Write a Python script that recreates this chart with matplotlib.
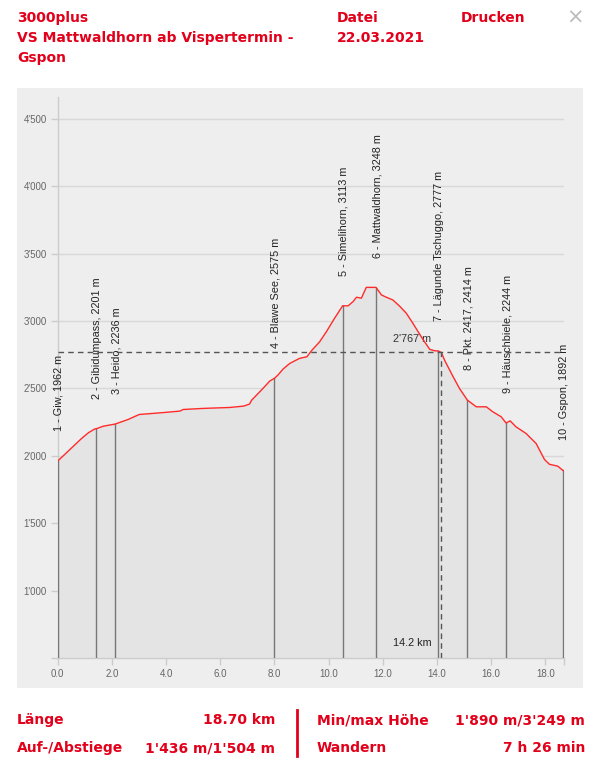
import numpy as np
import matplotlib
matplotlib.use("Agg")
import matplotlib.pyplot as plt
from matplotlib.patches import Rectangle
from matplotlib.ticker import FuncFormatter

# profile (km, m)
dist_km = [0.00, 0.27, 0.58, 0.88, 1.13, 1.38, 1.42, 1.68, 2.12, 2.60, 3.01,
           3.77, 4.51, 4.63, 5.37, 6.35, 6.86, 7.08, 7.16, 7.52, 7.83, 8.00,
           8.13, 8.32, 8.57, 8.93, 9.20, 9.37, 9.67, 9.92, 10.22, 10.52, 10.72,
           10.90, 11.03, 11.21, 11.39, 11.75, 11.95, 12.13, 12.25, 12.37, 12.62,
           12.87, 13.11, 13.42, 13.73, 13.90, 14.05, 14.16, 14.28, 14.53, 14.83,
           15.12, 15.45, 15.82, 16.06, 16.37, 16.55, 16.70, 16.92, 17.29, 17.66,
           17.97, 18.15, 18.46, 18.65, 18.70]
elev_m = [1962, 2013, 2072, 2129, 2171, 2201, 2201, 2220, 2236, 2270, 2307,
          2319, 2332, 2344, 2352, 2359, 2369, 2384, 2413, 2488, 2555, 2575,
          2599, 2644, 2686, 2723, 2735, 2780, 2846, 2921, 3020, 3113, 3112,
          3143, 3176, 3169, 3249, 3249, 3193, 3176, 3166, 3156, 3110,
          3057, 2983, 2883, 2790, 2780, 2777, 2767, 2710, 2612, 2500,
          2414, 2364, 2364, 2327, 2290, 2244, 2260, 2215, 2166, 2092,
          1973, 1938, 1924, 1892, 1890]

wp_names = ["1 - Giw, 1962 m", "2 - Gibidumpass, 2201 m", "3 - Heido, 2236 m",
            "4 - Blawe See, 2575 m", "5 - Simelihorn, 3113 m",
            "6 - Mattwaldhorn, 3248 m", "7 - Lägunde Tschuggo, 2777 m",
            "8 - Pkt. 2417, 2414 m", "9 - Häuschbiele, 2244 m",
            "10 - Gspon, 1892 m"]
wp_km = [0.01, 1.42, 2.12, 8.00, 10.52, 11.75, 14.05, 15.12, 16.55, 18.65]
wp_elev = [1962, 2201, 2236, 2575, 3113, 3248, 2777, 2414, 2244, 1892]

cursor_km = 14.16
cursor_elev = 2767

xticks = [0, 2, 4, 6, 8, 10, 12, 14, 16, 18]
yticks = [500, 1000, 1500, 2000, 2500, 3000, 3500, 4000, 4500]

header_left = ["3000plus", "VS Mattwaldhorn ab Vispertermin -", "Gspon"]
footer_rows = [("Länge", "18.70 km", "Min/max Höhe", "1'890 m/3'249 m"),
               ("Auf-/Abstiege", "1'436 m/1'504 m", "Wandern", "7 h 26 min")]

RED = "#e2001a"
W, H = 606, 776


def px(x, y):
    return x / W, 1 - y / H


fig = plt.figure(figsize=(W / 100, H / 100), dpi=100)
fig.patch.set_facecolor("white")

# grey panel behind the chart
fig.patches.append(Rectangle(px(17, 688), 566 / W, 600 / H,
                             transform=fig.transFigure, facecolor="#eeeeee",
                             edgecolor="none", zorder=-5))

l, t = px(57.7, 97)
r, b = px(564.3, 658.3)
ax = fig.add_axes([l, b, r - l, t - b])
ax.set_zorder(2)
ax.set_facecolor("none")
ax.set_xlim(0, 18.7)
ax.set_ylim(500, 4660)

for s in ["top", "right"]:
    ax.spines[s].set_visible(False)
for s in ["left", "bottom"]:
    ax.spines[s].set_color("#cccccc")
    ax.spines[s].set_linewidth(1)

ax.set_yticks(yticks)
ax.yaxis.set_major_formatter(FuncFormatter(
    lambda v, p: "" if v == 500 else f"{int(v):,}".replace(",", "'")))
ax.set_xticks(xticks + [18.7])
ax.set_xticklabels([f"{v:.1f}" for v in xticks] + [""])
ax.tick_params(colors="#cccccc", labelcolor="#666666", labelsize=7,
               length=5, width=1, pad=3)
for lab in ax.get_xticklabels() + ax.get_yticklabels():
    lab.set_family("Liberation Sans")

ax.grid(axis="y", color="#d8d8d8", linewidth=1)
ax.set_axisbelow(True)

ax.fill_between(dist_km, elev_m, 500, color="#e4e4e4", linewidth=0, zorder=1)
ax.plot(dist_km, elev_m, color="#ff2b2b", linewidth=1, zorder=4)

# waypoints
for name, k, e in zip(wp_names, wp_km, wp_elev):
    ax.plot([k, k], [500, e], color="#777777", linewidth=1, zorder=3)
    ax.annotate(name, (k, e), xytext=(1, 30), textcoords="offset pixels",
                rotation=90, ha="center", va="bottom", fontsize=7.8,
                family="Liberation Sans", color="#222222", zorder=5)

# cursor cross-hair
ax.axhline(cursor_elev, color="#555555", linewidth=1, dashes=(4, 3), zorder=5)
ax.plot([cursor_km, cursor_km], [500, cursor_elev], color="#555555",
        linewidth=1, dashes=(4, 3), zorder=5)
ax.annotate(f"{cursor_elev:,} m".replace(",", "'"), (cursor_km, cursor_elev),
            xytext=(-10, 13), textcoords="offset pixels", ha="right",
            va="center", fontsize=7.8, family="Liberation Sans", color="#333333")
ax.annotate(f"{cursor_km:.1f} km", (cursor_km, 500), xytext=(-10, 15),
            textcoords="offset pixels", ha="right", va="center", fontsize=7.8,
            family="Liberation Sans", color="#222222")

# header
hfont = dict(family="DejaVu Sans", weight="bold", color=RED, fontsize=10,
             va="center")
for i, txt in enumerate(header_left):
    fig.text(*px(17, 18 + 20 * i), txt, **hfont)
fig.text(*px(337, 18), "Datei", **hfont)
fig.text(*px(337, 38), "22.03.2021", **hfont)
fig.text(*px(461, 18), "Drucken", **hfont)
fig.text(*px(575, 18), "×", family="DejaVu Sans", color="#bbbbbb",
         fontsize=15, ha="center", va="center")

# footer
for i, (k1, v1, k2, v2) in enumerate(footer_rows):
    y = 720 + 28 * i
    fig.text(*px(17, y), k1, **hfont)
    fig.text(*px(275, y), v1, ha="right", **hfont)
    fig.text(*px(317, y), k2, **hfont)
    fig.text(*px(585, y), v2, ha="right", **hfont)
fig.add_artist(plt.Line2D([297 / W, 297 / W], [1 - 710 / H, 1 - 756 / H],
                          transform=fig.transFigure, color=RED, linewidth=2))

fig.savefig("out.png", dpi=100)
